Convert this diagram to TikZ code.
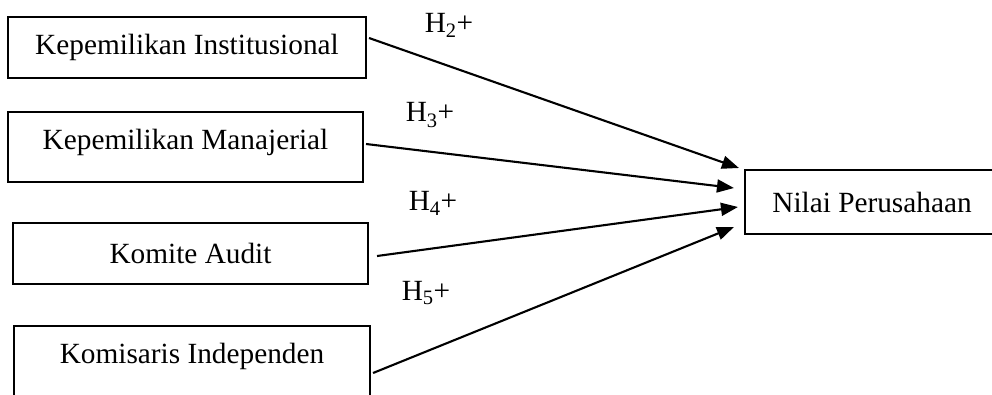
\documentclass[tikz,border=0pt]{standalone}
\usepackage{fontspec}
\setmainfont{Liberation Serif}
\usetikzlibrary{arrows.meta}
\begin{document}
\begin{tikzpicture}[x=1pt,y=-1pt,
  box/.style={draw=black,line width=2.1pt,inner sep=0pt,font=\fontsize{29.3}{33}\selectfont},
  hlab/.style={inner sep=0pt,font=\fontsize{29.3}{33}\selectfont},
  arr/.style={line width=2.1pt,-{Triangle[length=17pt,width=13pt]}}]
\useasboundingbox (0,0) rectangle (992,394);
\clip (0,0) rectangle (992,394);
\node[box,minimum width=358pt,minimum height=61pt] (b1) at (187,47.5) {Kepemilikan Institusional};
\node[box,minimum width=355pt,minimum height=70pt,text height=19pt,text depth=15pt] (b2) at (185.5,147) {Kepemilikan Manajerial};
\node[box,minimum width=355pt,minimum height=61pt] (b3) at (190.5,253.5) {Komite Audit};
\node[box,minimum width=356pt,minimum height=74pt,text height=19pt,text depth=19pt] (b4) at (192,363) {Komisaris Independen};
\node[box,minimum width=254pt,minimum height=64pt] (nv) at (872,202) {Nilai Perusahaan};
\node[hlab] (h2) at (449,25) {H\textsubscript{2}+};
\node[hlab] (h3) at (430,115) {H\textsubscript{3}+};
\node[hlab] (h4) at (433,203) {H\textsubscript{4}+};
\node[hlab] (h5) at (426,293) {H\textsubscript{5}+};
\draw[arr] ([xshift=2pt,yshift=9.5pt]b1.east) -- ([xshift=-5pt,yshift=34pt]nv.west);
\draw[arr] ([xshift=2pt,yshift=3pt]b2.east) -- ([xshift=-10pt,yshift=14pt]nv.west);
\draw[arr] ([xshift=8pt,yshift=-2.5pt]b3.east) -- ([xshift=-6pt,yshift=-5pt]nv.west);
\draw[arr] ([xshift=2pt,yshift=-10pt]b4.east) -- ([xshift=-10pt,yshift=-25pt]nv.west);
\end{tikzpicture}
\end{document}
